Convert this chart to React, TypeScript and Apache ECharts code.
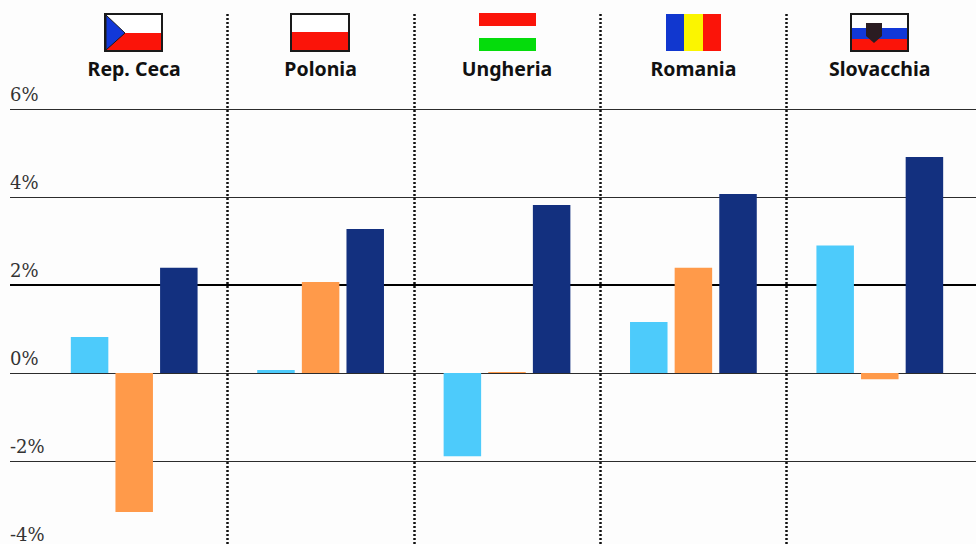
import React, { useEffect, useRef } from "react";
import * as echarts from "echarts";

const categories = ["Rep. Ceca", "Polonia", "Ungheria", "Romania", "Slovacchia"];
const lightValues = [0.82, 0.07, -1.89, 1.16, 2.9];
const orangeValues = [-3.16, 2.07, 0.02, 2.39, -0.14];
const darkValues = [2.39, 3.27, 3.82, 4.07, 4.91];
const tickMin = -4;
const tickMax = 6;
const tickStep = 2;
const boldTick = 2;

const INK = "#1a1a1a";
const RED = "#fb1409";
const BLUE = "#1238d8";

const rect = (x: number, y: number, w: number, h: number, fill: string, stroke?: string) => ({
  type: "rect",
  shape: { x, y, width: w, height: h },
  style: stroke ? { fill, stroke, lineWidth: 2 } : { fill },
});

const flags = [
  // Rep. Ceca
  rect(105, 14, 57, 37, "#ffffff", INK),
  rect(106, 33, 55, 17, RED),
  { type: "polygon", shape: { points: [[106, 15], [125, 33], [106, 50]] }, style: { fill: BLUE, stroke: INK, lineWidth: 1 } },
  // Polonia
  rect(291, 14, 58, 37, "#ffffff", INK),
  rect(292, 32, 56, 18, RED),
  // Ungheria
  rect(479, 13, 57, 13, RED),
  rect(479, 38, 57, 13, "#05dc0c"),
  // Romania
  rect(666, 14, 18, 37, "#1137cf"),
  rect(684, 14, 19, 37, "#fbf500"),
  rect(703, 14, 18, 37, RED),
  // Slovacchia
  rect(851, 14, 57, 37, "#ffffff", INK),
  rect(852, 28, 55, 11, "#1238d8"),
  rect(852, 39, 55, 11, RED),
  { type: "polygon", shape: { points: [[866, 23], [882, 23], [882, 36], [874, 43], [866, 36]] }, style: { fill: "#2a1c22" } },
];

export default function App() {
  const ref = useRef<HTMLDivElement>(null);
  useEffect(() => {
    const chart = echarts.init(ref.current!, undefined, { renderer: "svg" });
    chart.setOption({
      animation: false,
      backgroundColor: "#fdfdfd",
      grid: [
        { left: 10, width: 966, top: 109, height: 440, outerBoundsMode: "none" },
        { left: 41, width: 932, top: 109, height: 440, outerBoundsMode: "none" },
        { left: 41, width: 932, top: 14, height: 530, outerBoundsMode: "none" },
      ],
      xAxis: [
        { gridIndex: 0, type: "category", data: categories, show: false },
        {
          gridIndex: 1,
          type: "category",
          data: categories,
          axisLine: { show: false },
          axisTick: { show: false },
          axisLabel: { show: false },
          splitLine: { show: false },
        },
        {
          gridIndex: 2,
          type: "category",
          position: "top",
          data: categories,
          axisLine: { show: false },
          axisTick: { show: false },
          axisLabel: {
            inside: true,
            margin: 44,
            interval: 0,
            fontFamily: "Noto Sans",
            fontWeight: "bold",
            fontSize: 19.5,
            color: "#111111",
            verticalAlign: "top",
          },
          splitLine: {
            show: true,
            interval: 0,
            showMinLine: false,
            showMaxLine: false,
            lineStyle: { color: "#111111", width: 2.5, type: [2, 2] },
          },
        },
      ],
      yAxis: [
        {
          gridIndex: 0,
          type: "value",
          min: tickMin,
          max: tickMax,
          interval: tickStep,
          axisLine: { show: false },
          axisTick: { show: false },
          axisLabel: {
            inside: true,
            margin: 0,
            showMinLabel: true,
            showMaxLabel: true,
            hideOverlap: false,
            align: "left",
            verticalAlign: "bottom",
            padding: [0, 0, 6, 0],
            fontFamily: "DejaVu Serif",
            fontSize: 18,
            lineHeight: 18,
            color: "#333333",
            formatter: (v: number) => `${v}%`,
          },
          splitLine: { show: true, lineStyle: { color: "#2c2c2c", width: 1 } },
        },
        { gridIndex: 1, type: "value", min: tickMin, max: tickMax, interval: tickStep, show: false },
        { gridIndex: 2, type: "value", show: false },
      ],
      series: [
        {
          type: "line",
          xAxisIndex: 0,
          yAxisIndex: 0,
          data: [],
          silent: true,
          z: 1,
          markLine: {
            silent: true,
            symbol: "none",
            z: 1,
            label: { show: false },
            lineStyle: { color: "#000000", width: 2, type: "solid" },
            data: [{ yAxis: boldTick }],
          },
        },
        { type: "bar", xAxisIndex: 2, yAxisIndex: 2, data: [] },
        ...[
          { data: lightValues, color: "#4dcbfb" },
          { data: orangeValues, color: "#ff9a4a" },
          { data: darkValues, color: "#13307f" },
        ].map((s) => ({
          type: "bar",
          xAxisIndex: 1,
          yAxisIndex: 1,
          z: 3,
          data: s.data,
          barWidth: 37.5,
          barGap: "19%",
          itemStyle: { color: s.color },
        })),
      ],
      graphic: flags,
    });
    return () => chart.dispose();
  }, []);
  return (
    <div
      ref={ref}
      style={{ position: "fixed", left: 0, top: 0, width: 976, height: 544, overflow: "hidden" }}
    />
  );
}
